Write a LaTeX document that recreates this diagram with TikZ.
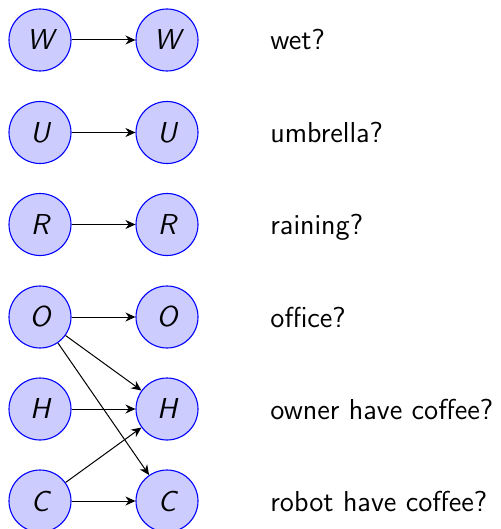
\documentclass[tikz,border=0pt]{standalone}
\usetikzlibrary{arrows.meta}
\begin{document}
\begin{tikzpicture}[x=0.5pt,y=-0.5pt,
  var/.style={circle,draw=blue,fill=blue!20,line width=0.55pt,minimum size=31pt,inner sep=0pt,
    font=\fontsize{14.4}{16}\selectfont\sffamily\itshape},
  desc/.style={anchor=base west,inner sep=0pt,font=\fontsize{14.4}{16}\selectfont\sffamily},
  link/.style={-{Stealth[length=5pt,width=4.5pt,inset=1.6pt]},line width=0.5pt}]
\useasboundingbox (0,0) rectangle (501,529);
% two time slices, one row per variable
\foreach \v/\y in {W/40,U/132.5,R/224.5,O/317,H/409,C/501}{
  \node[var] (\v0) at (40,\y) {\v};
  \node[var] (\v1) at (167,\y) {\v};
}
\node[desc] (lw) at (270,50) {wet?};
\node[desc] (lu) at (270,142.5) {umbrella?};
\node[desc] (lr) at (270,234.5) {raining?};
\node[desc] (lo) at (270,327) {office?};
\node[desc] (lh) at (270,419) {owner have coffee?};
\node[desc] (lc) at (270,511) {robot have coffee?};
% persistence links
\foreach \v in {W,U,R,O,H,C}{ \draw[link] (\v0) -- (\v1); }
% cross links
\draw[link] (O0) -- (H1);
\draw[link] (O0) -- (C1);
\draw[link] (C0) -- (H1);
\end{tikzpicture}
\end{document}
